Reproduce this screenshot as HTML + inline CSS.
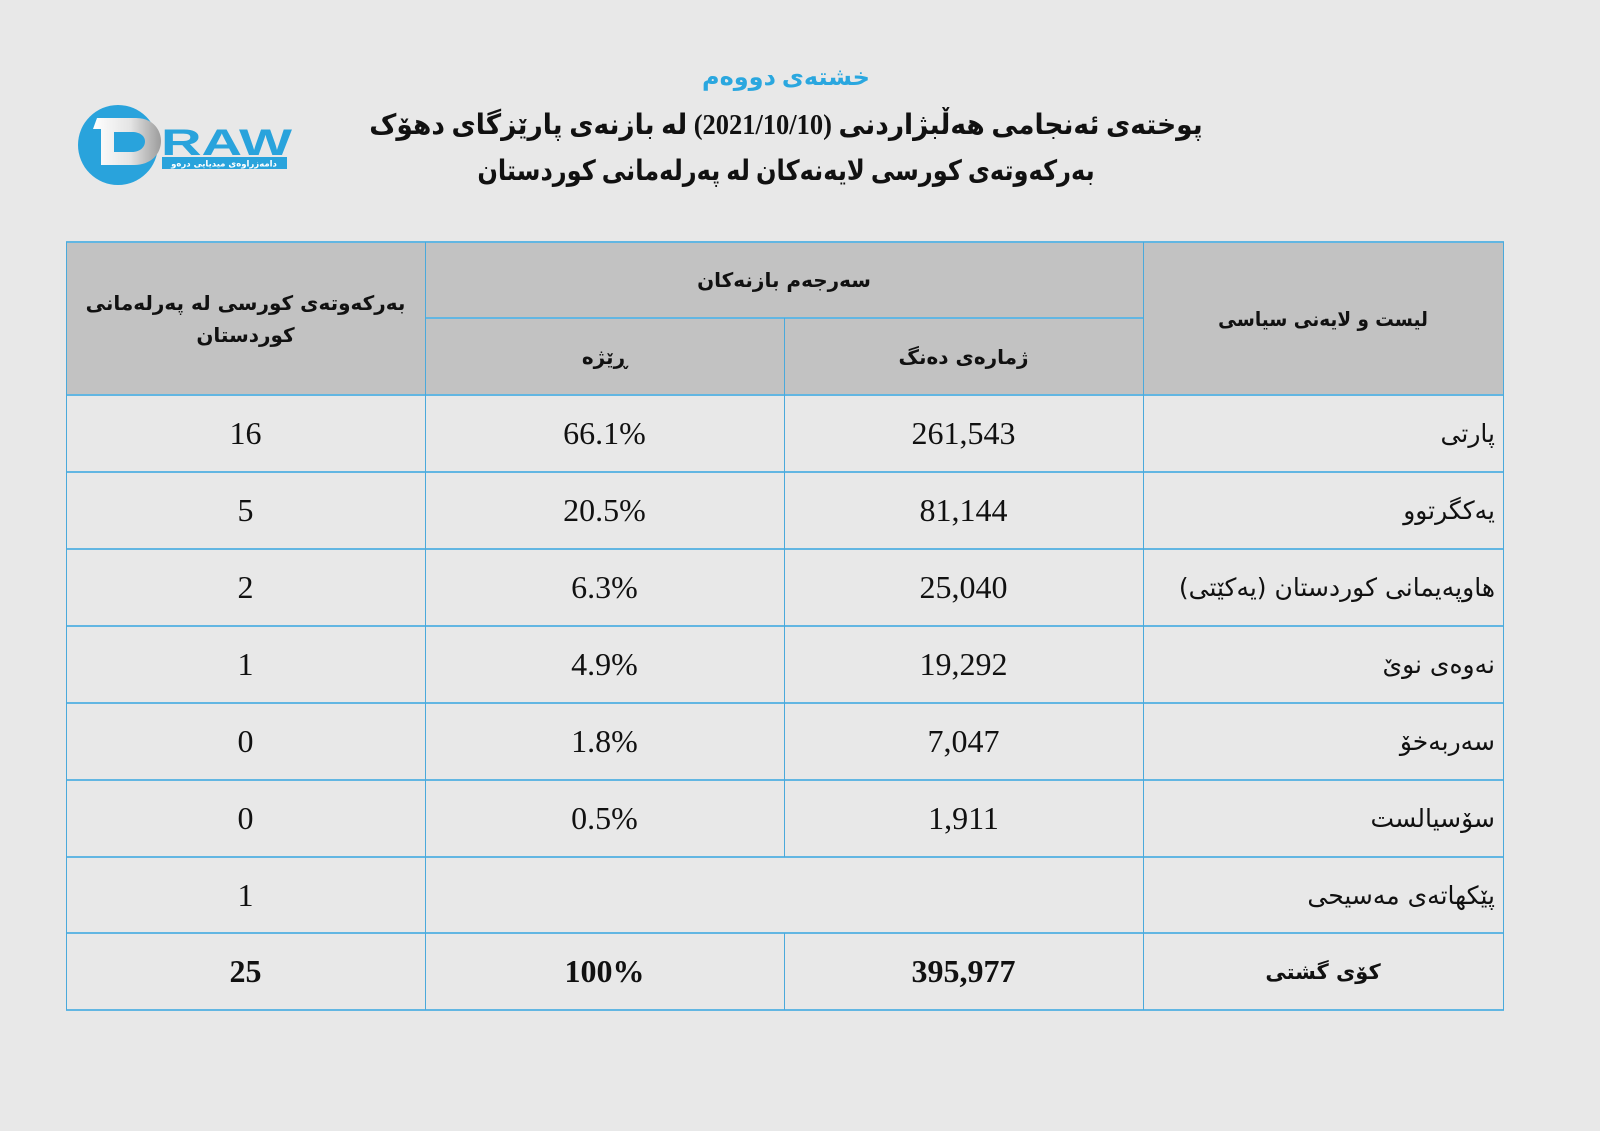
<!DOCTYPE html>
<html>
<head>
<meta charset="utf-8">
<style>
  html,body{margin:0;padding:0;}
  body{width:1600px;height:1131px;background:#e8e8e8;position:relative;overflow:hidden;}
  .t{position:absolute;left:0;width:1572px;text-align:center;font-family:"Liberation Serif","DejaVu Sans",sans-serif;font-weight:bold;white-space:nowrap;transform-origin:786px 50%;}
  .hl{position:absolute;height:2px;background:#62b6e2;}
  .vl{position:absolute;width:1px;background:#4aa9db;}
  .c{position:absolute;display:flex;align-items:center;justify-content:center;white-space:nowrap;color:#111;}
  .num{font-family:"Liberation Serif",serif;font-size:32px;}
  .ar{font-family:"DejaVu Sans",sans-serif;}
  .hd{font-family:"DejaVu Sans",sans-serif;font-weight:bold;font-size:20px;color:#111;text-align:center;line-height:32px;}
  .nm{justify-content:flex-start;padding-right:8px;box-sizing:border-box;font-size:25px;}
</style>
</head>
<body>

<!-- Logo -->
<svg style="position:absolute;left:0;top:0" width="320" height="220" viewBox="0 0 320 220">
  <defs>
    <linearGradient id="dg" x1="0" y1="0" x2="1" y2="0">
      <stop offset="0" stop-color="#ffffff"/>
      <stop offset="0.55" stop-color="#e4e4e4"/>
      <stop offset="1" stop-color="#9c9c9c"/>
    </linearGradient>
  </defs>
  <circle cx="118" cy="145" r="40" fill="#29a3dc"/>
  <path d="M97 118 L136 118 C153 118 161 130 161 141 C161 154 151 165 134 165 L101 165 L101 129 L93 129 Z" fill="url(#dg)"/>
  <path d="M114 132 L132 132 C140 132 145 136 145 141.5 C145 147 140 152 132 152 L114 152 Z" fill="#29a3dc"/>
  <text x="161" y="155" font-family="Liberation Sans, sans-serif" font-weight="bold" font-size="37" fill="#29a3dc" textLength="131" lengthAdjust="spacingAndGlyphs">RAW</text>
  <rect x="162" y="157" width="125" height="12" fill="#29a3dc"/>
  <text x="224" y="166.5" text-anchor="middle" font-family="DejaVu Sans, sans-serif" font-weight="bold" font-size="8.5" fill="#ffffff" direction="rtl">دامەزراوەی میدیایی درەو</text>
</svg>

<!-- Titles -->
<div class="t" dir="rtl" style="top:62px;font-size:24px;color:#2aa7df;line-height:32px;">خشتەی دووەم</div>
<div class="t" dir="rtl" style="top:108px;font-size:28px;color:#111;line-height:36px;transform:scaleX(0.945);">پوختەی ئەنجامی هەڵبژاردنی (2021/10/10) لە بازنەی پارێزگای دهۆک</div>
<div class="t" dir="rtl" style="top:154px;font-size:28px;color:#111;line-height:36px;transform:scaleX(0.86);">بەرکەوتەی کورسی لایەنەکان لە پەرلەمانی کوردستان</div>

<!-- Header background -->
<div style="position:absolute;left:66px;top:242px;width:1437px;height:153px;background:#c2c2c2;"></div>

<!-- Horizontal lines -->
<div class="hl" style="left:66px;top:241px;width:1438px;"></div>
<div class="hl" style="left:425px;top:317px;width:718px;"></div>
<div class="hl" style="left:66px;top:394px;width:1438px;"></div>
<div class="hl" style="left:66px;top:471px;width:1438px;"></div>
<div class="hl" style="left:66px;top:548px;width:1438px;"></div>
<div class="hl" style="left:66px;top:625px;width:1438px;"></div>
<div class="hl" style="left:66px;top:702px;width:1438px;"></div>
<div class="hl" style="left:66px;top:779px;width:1438px;"></div>
<div class="hl" style="left:66px;top:856px;width:1438px;"></div>
<div class="hl" style="left:66px;top:932px;width:1438px;"></div>
<div class="hl" style="left:66px;top:1009px;width:1438px;"></div>

<!-- Vertical lines -->
<div class="vl" style="left:66px;top:242px;height:768px;"></div>
<div class="vl" style="left:425px;top:242px;height:768px;"></div>
<div class="vl" style="left:784px;top:318px;height:539px;"></div>
<div class="vl" style="left:784px;top:933px;height:77px;"></div>
<div class="vl" style="left:1143px;top:242px;height:768px;"></div>
<div class="vl" style="left:1503px;top:242px;height:768px;"></div>

<!-- Header text -->
<div class="c hd" dir="rtl" style="left:66px;top:242px;width:359px;height:153px;"><div>بەرکەوتەی کورسی لە پەرلەمانی<br>کوردستان</div></div>
<div class="c hd" dir="rtl" style="left:425px;top:242px;width:718px;height:76px;">سەرجەم بازنەکان</div>
<div class="c hd" dir="rtl" style="left:425px;top:318px;width:359px;height:77px;">ڕێژە</div>
<div class="c hd" dir="rtl" style="left:784px;top:318px;width:359px;height:77px;">ژمارەی دەنگ</div>
<div class="c hd" dir="rtl" style="left:1143px;top:242px;width:360px;height:153px;"><span style="display:inline-block;transform:scaleX(0.92);">لیست و لایەنی سیاسی</span></div>

<!-- Row 1 -->
<div class="c num" style="left:66px;top:395px;width:359px;height:77px;">16</div>
<div class="c num" style="left:425px;top:395px;width:359px;height:77px;">66.1%</div>
<div class="c num" style="left:784px;top:395px;width:359px;height:77px;">261,543</div>
<div class="c ar nm" dir="rtl" style="left:1143px;top:395px;width:360px;height:77px;">پارتی</div>

<!-- Row 2 -->
<div class="c num" style="left:66px;top:472px;width:359px;height:77px;">5</div>
<div class="c num" style="left:425px;top:472px;width:359px;height:77px;">20.5%</div>
<div class="c num" style="left:784px;top:472px;width:359px;height:77px;">81,144</div>
<div class="c ar nm" dir="rtl" style="left:1143px;top:472px;width:360px;height:77px;">یەکگرتوو</div>

<!-- Row 3 -->
<div class="c num" style="left:66px;top:549px;width:359px;height:77px;">2</div>
<div class="c num" style="left:425px;top:549px;width:359px;height:77px;">6.3%</div>
<div class="c num" style="left:784px;top:549px;width:359px;height:77px;">25,040</div>
<div class="c ar nm" dir="rtl" style="left:1143px;top:549px;width:360px;height:77px;">هاوپەیمانی کوردستان (یەکێتی)</div>

<!-- Row 4 -->
<div class="c num" style="left:66px;top:626px;width:359px;height:77px;">1</div>
<div class="c num" style="left:425px;top:626px;width:359px;height:77px;">4.9%</div>
<div class="c num" style="left:784px;top:626px;width:359px;height:77px;">19,292</div>
<div class="c ar nm" dir="rtl" style="left:1143px;top:626px;width:360px;height:77px;">نەوەی نوێ</div>

<!-- Row 5 -->
<div class="c num" style="left:66px;top:703px;width:359px;height:77px;">0</div>
<div class="c num" style="left:425px;top:703px;width:359px;height:77px;">1.8%</div>
<div class="c num" style="left:784px;top:703px;width:359px;height:77px;">7,047</div>
<div class="c ar nm" dir="rtl" style="left:1143px;top:703px;width:360px;height:77px;">سەربەخۆ</div>

<!-- Row 6 -->
<div class="c num" style="left:66px;top:780px;width:359px;height:77px;">0</div>
<div class="c num" style="left:425px;top:780px;width:359px;height:77px;">0.5%</div>
<div class="c num" style="left:784px;top:780px;width:359px;height:77px;">1,911</div>
<div class="c ar nm" dir="rtl" style="left:1143px;top:780px;width:360px;height:77px;">سۆسیالست</div>

<!-- Row 7 -->
<div class="c num" style="left:66px;top:857px;width:359px;height:76px;">1</div>
<div class="c ar nm" dir="rtl" style="left:1143px;top:857px;width:360px;height:76px;">پێکهاتەی مەسیحی</div>

<!-- Row 8 (total) -->
<div class="c num" style="left:66px;top:933px;width:359px;height:77px;font-weight:bold;">25</div>
<div class="c num" style="left:425px;top:933px;width:359px;height:77px;font-weight:bold;">100%</div>
<div class="c num" style="left:784px;top:933px;width:359px;height:77px;font-weight:bold;">395,977</div>
<div class="c ar" dir="rtl" style="left:1143px;top:933px;width:360px;height:77px;font-weight:bold;font-size:21px;">کۆی گشتی</div>

</body>
</html>
